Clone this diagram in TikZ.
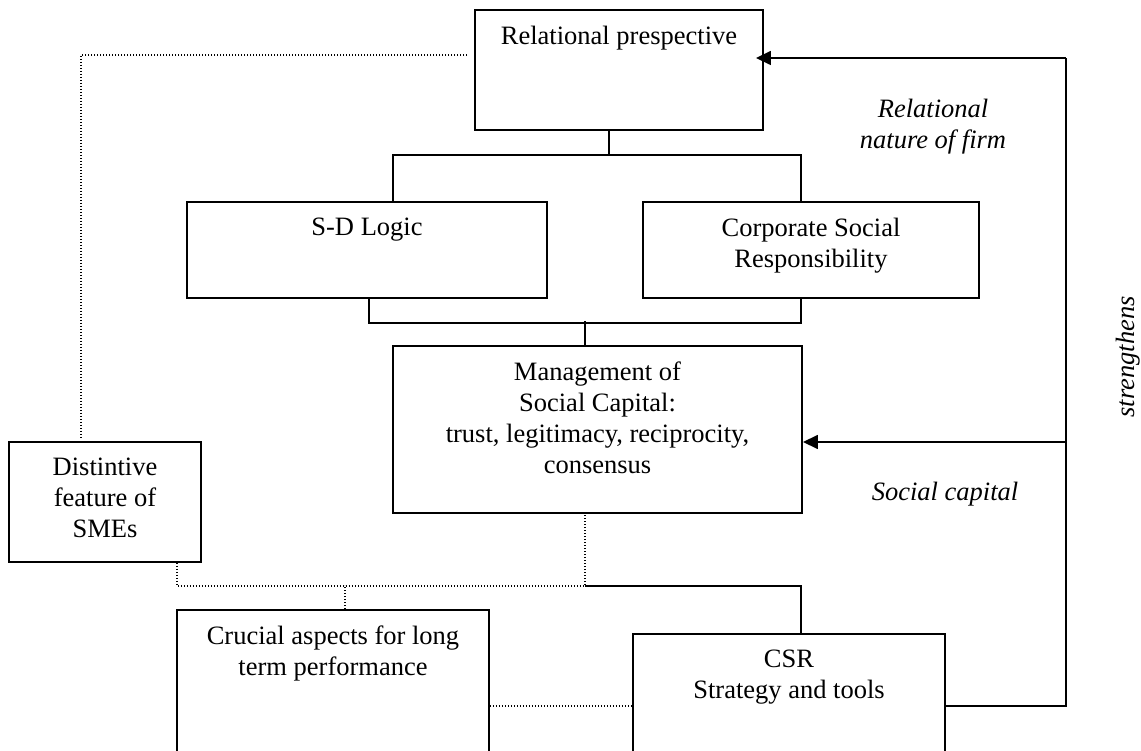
\documentclass[tikz,border=0pt]{standalone}
\usepackage{fontspec}
\setmainfont{Liberation Serif}
\usetikzlibrary{arrows.meta}
\begin{document}
\begin{tikzpicture}[x=1pt,y=-1pt,
  box/.style={draw, line width=1.9pt, rectangle, inner sep=0pt},
  txt/.style={anchor=north, inner sep=0pt, align=center, font=\fontsize{26.5}{31}\selectfont},
  itx/.style={anchor=north, inner sep=0pt, align=center, font=\fontsize{26.5}{31}\selectfont\itshape},
  link/.style={line width=1.6pt},
  dotline/.style={line width=1.6pt, dash pattern=on 1.3pt off 1.7pt},
  arr/.style={link, -{Triangle[length=15pt,width=14pt]}},
]
\useasboundingbox (0,0) rectangle (1141,751);
\clip (0,0) rectangle (1141,751);

% boxes
\node[box, minimum width=288pt, minimum height=120pt] (rel) at (619,70) {};
\node[box, minimum width=360pt, minimum height=96pt] (sd) at (367,250) {};
\node[box, minimum width=336pt, minimum height=96pt] (csr) at (811,250) {};
\node[box, minimum width=409pt, minimum height=167pt] (mgmt) at (597.5,429.5) {};
\node[box, minimum width=192pt, minimum height=120pt] (dist) at (105,502) {};
\node[box, minimum width=312pt, minimum height=170pt] (cru) at (333,695) {};
\node[box, minimum width=312pt, minimum height=146pt] (csrs) at (789,707) {};

% box texts
\node[txt] (relT) at ([yshift=-17pt]rel.north) {Relational prespective};
\node[txt] (sdT) at ([yshift=-17pt]sd.north) {S-D Logic};
\node[txt] (csrT) at ([yshift=-17pt]csr.north) {Corporate Social\\Responsibility};
\node[txt] (mgmtT) at ([yshift=-17pt]mgmt.north) {Management of\\Social Capital:\\trust, legitimacy, reciprocity,\\consensus};
\node[txt] (distT) at ([yshift=-17pt]dist.north) {Distintive\\feature of\\SMEs};
\node[txt] (cruT) at ([yshift=-17pt]cru.north) {Crucial aspects for long\\term performance};
\node[txt] (csrsT) at ([yshift=-17pt]csrs.north) {CSR\\Strategy and tools};

% labels
\node[itx] (lblRel) at (933,99) {Relational\\nature of firm};
\node[itx] (lblSoc) at (945,482) {Social capital};
\node[inner sep=0pt, rotate=90, anchor=base, font=\fontsize{26.5}{31}\selectfont\itshape] (lblStr) at (1134,357) {strengthens};

% solid tree connectors
\draw[link] ([xshift=-10pt]rel.south) -- ++(0,24) coordinate (b1);
\draw[link] ([xshift=26pt]sd.north) |- (b1) -| ([xshift=-10pt]csr.north);
\draw[link] ([xshift=2pt]sd.south) -- ++(0,24) -| ([xshift=-10pt]csr.south);
\draw[link] ([xshift=-12.5pt]mgmt.north) -- ++(0,-24);

% dotted connectors
\coordinate (rd) at (467,55);
\draw[dotline] (rd) -| ([xshift=-24pt,yshift=4pt]dist.north);
\coordinate (j) at (585,586);
\draw[dotline] ([xshift=72pt]dist.south) |- (j) -- ([xshift=-12.5pt]mgmt.south);
\draw[dotline] ([xshift=12pt]cru.north) -- ++(0,-24);
\draw[dotline] ([yshift=-11pt]cru.east) -- ([yshift=1pt]csrs.west);

% solid lower connector
\draw[link] (j) -| ([xshift=12pt]csrs.north);

% feedback loop
\coordinate (rc) at (1066,58);
\coordinate (rm) at (1066,442);
\draw[link] ([yshift=1pt]csrs.east) -| (rc);
\draw[arr, shorten >=-8pt] (rc) -- ([yshift=12pt]rel.east);
\draw[arr] (rm) -- ([yshift=-12.5pt]mgmt.east);
\end{tikzpicture}
\end{document}
